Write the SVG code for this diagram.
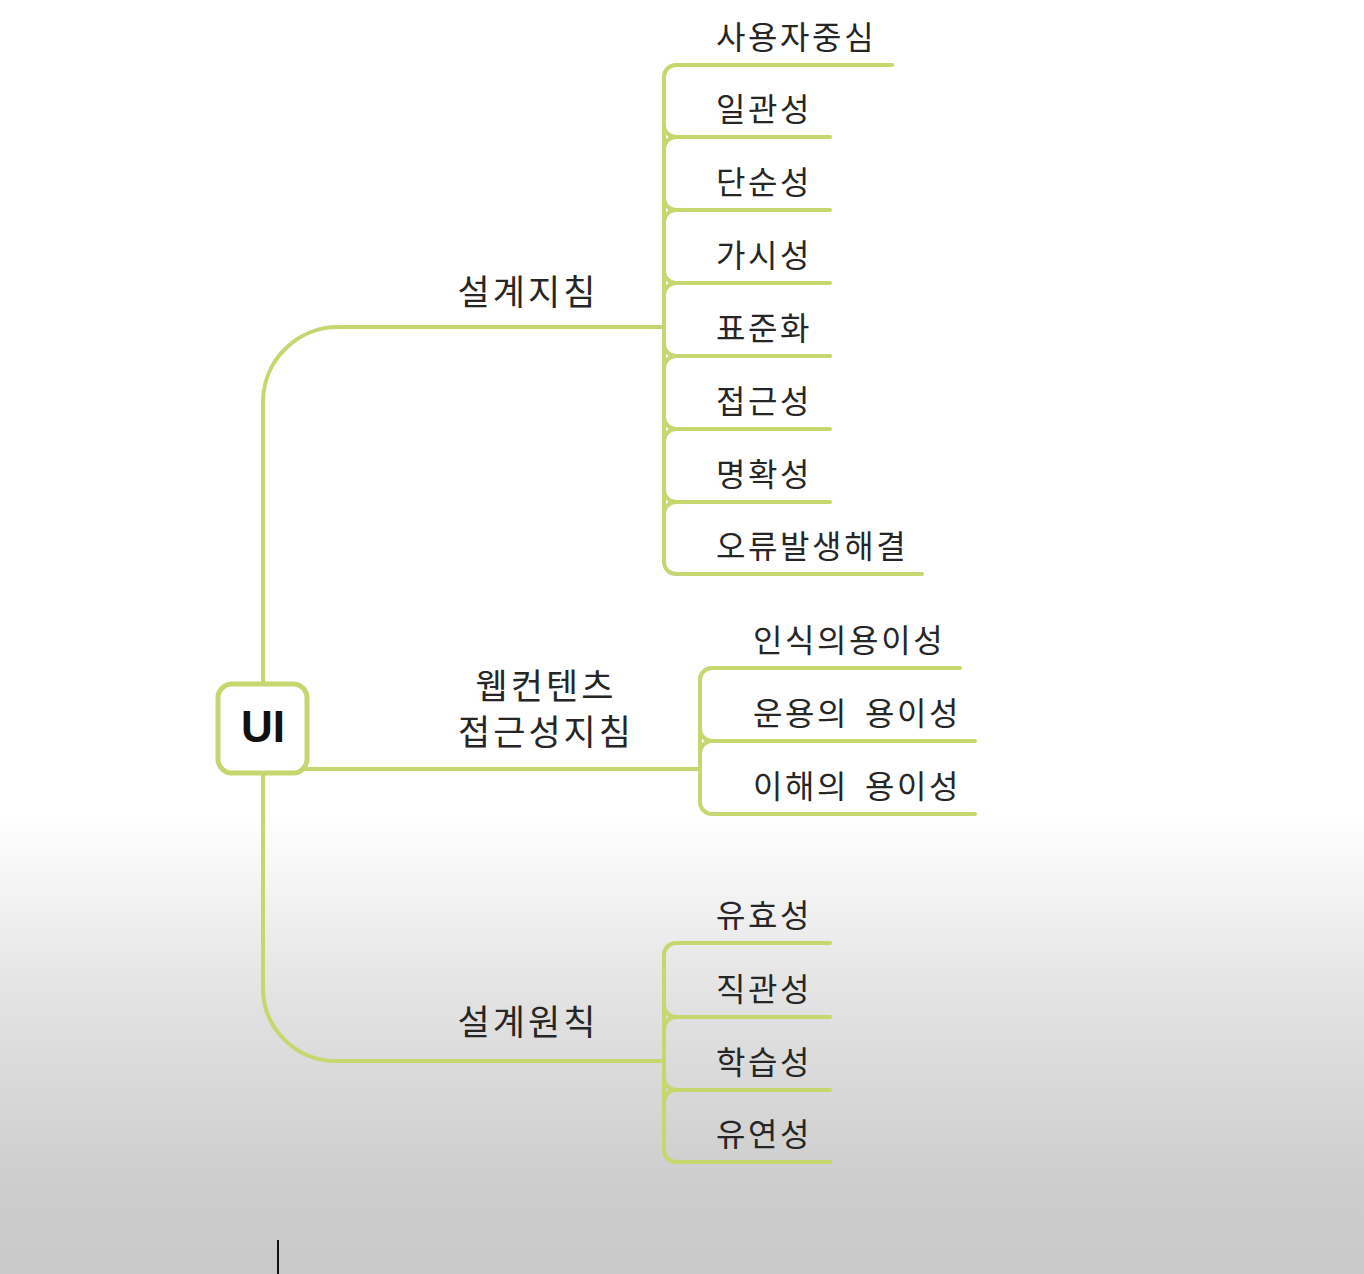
<svg xmlns="http://www.w3.org/2000/svg" width="1364" height="1274" viewBox="0 0 1364 1274">
<defs>
<linearGradient id="bg" x1="0" y1="0" x2="0" y2="1274" gradientUnits="userSpaceOnUse">
<stop offset="0" stop-color="#ffffff"/>
<stop offset="0.64" stop-color="#ffffff"/>
<stop offset="0.78" stop-color="#e3e3e3"/>
<stop offset="0.93" stop-color="#cdcdcd"/>
<stop offset="1" stop-color="#c9c9c9"/>
</linearGradient>
<style>
.ln{fill:none;stroke:#c5d76e;stroke-width:4;stroke-linecap:round;stroke-linejoin:round}
.ch{font-family:"Noto Sans CJK KR","Noto Sans",sans-serif;font-size:32px;fill:#262626;letter-spacing:2.6px}
.br{font-family:"Noto Sans CJK KR","Noto Sans",sans-serif;font-size:35px;fill:#262626;letter-spacing:3px;text-anchor:middle}
</style>
</defs>
<rect x="0" y="0" width="1364" height="1274" fill="url(#bg)"/>
<g id="connectors">
<path class="ln" d="M263,684 V402 A75,75 0 0 1 338,327 H664"/>
<path class="ln" d="M305,769 H700"/>
<path class="ln" d="M263,774 V988 A73,73 0 0 0 336,1061 H664"/>
<path class="ln" d="M676,65 H892 M676,65 A12,12 0 0 0 664,77 V562 A12,12 0 0 0 676,574 H922 M664,125 A12,12 0 0 0 676,137 M664,149 A12,12 0 0 1 676,137 H830 M664,198 A12,12 0 0 0 676,210 M664,222 A12,12 0 0 1 676,210 H830 M664,271 A12,12 0 0 0 676,283 M664,295 A12,12 0 0 1 676,283 H830 M664,344 A12,12 0 0 0 676,356 M664,368 A12,12 0 0 1 676,356 H830 M664,417 A12,12 0 0 0 676,429 M664,441 A12,12 0 0 1 676,429 H830 M664,490 A12,12 0 0 0 676,502 M664,514 A12,12 0 0 1 676,502 H830"/>
<path class="ln" d="M712,668 H960 M712,668 A12,12 0 0 0 700,680 V802 A12,12 0 0 0 712,814 H975 M700,729 A12,12 0 0 0 712,741 M700,753 A12,12 0 0 1 712,741 H975"/>
<path class="ln" d="M676,943 H830 M676,943 A12,12 0 0 0 664,955 V1150 A12,12 0 0 0 676,1162 H830 M664,1005 A12,12 0 0 0 676,1017 M664,1029 A12,12 0 0 1 676,1017 H830 M664,1078 A12,12 0 0 0 676,1090 M664,1102 A12,12 0 0 1 676,1090 H830"/>
</g>
<g id="node-ui">
<rect x="218" y="684" width="89" height="89" rx="14" fill="#ffffff" stroke="#c5d76e" stroke-width="5"/>
<text x="263" y="742" text-anchor="middle" font-family="Liberation Sans, Arial, sans-serif" font-size="44" font-weight="bold" fill="#111">UI</text>
</g>
<g id="node-guideline"><text class="br" x="528" y="305">설계지침</text></g>
<g id="node-web"><text class="br" x="546" y="699">웹컨텐츠</text><text class="br" x="546" y="745">접근성지침</text></g>
<g id="node-principle"><text class="br" x="528" y="1035">설계원칙</text></g>
<g id="node-g1"><text class="ch" x="716" y="49">사용자중심</text></g>
<g id="node-g2"><text class="ch" x="716" y="121">일관성</text></g>
<g id="node-g3"><text class="ch" x="716" y="194">단순성</text></g>
<g id="node-g4"><text class="ch" x="716" y="267">가시성</text></g>
<g id="node-g5"><text class="ch" x="716" y="340">표준화</text></g>
<g id="node-g6"><text class="ch" x="716" y="413">접근성</text></g>
<g id="node-g7"><text class="ch" x="716" y="486">명확성</text></g>
<g id="node-g8"><text class="ch" x="716" y="558">오류발생해결</text></g>
<g id="node-w1"><text class="ch" x="753" y="652">인식의용이성</text></g>
<g id="node-w2"><text class="ch" x="753" y="725">운용의 <tspan dx="6">용이성</tspan></text></g>
<g id="node-w3"><text class="ch" x="753" y="798">이해의 <tspan dx="6">용이성</tspan></text></g>
<g id="node-p1"><text class="ch" x="716" y="927">유효성</text></g>
<g id="node-p2"><text class="ch" x="716" y="1001">직관성</text></g>
<g id="node-p3"><text class="ch" x="716" y="1074">학습성</text></g>
<g id="node-p4"><text class="ch" x="716" y="1146">유연성</text></g>
<line x1="278" y1="1240" x2="278" y2="1274" stroke="#111" stroke-width="2"/>
</svg>
